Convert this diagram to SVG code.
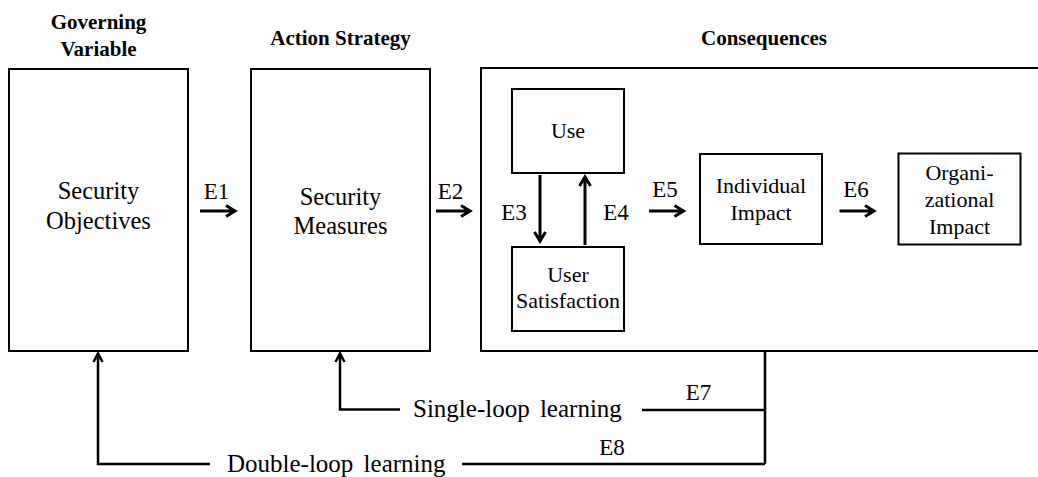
<svg xmlns="http://www.w3.org/2000/svg" width="1038" height="477" viewBox="0 0 1038 477">
<style>
text{font-family:'Liberation Serif',Tinos,'DejaVu Serif',serif;fill:#000}
.h{font-weight:bold;font-size:21px;text-anchor:middle}
.big{font-size:24.5px;text-anchor:middle}
.in{font-size:22px;text-anchor:middle}
.e{font-size:23px;text-anchor:middle}
.lbl{font-size:25px;word-spacing:4px}
.box{fill:#fff;stroke:#000;stroke-width:2}
.ar{stroke:#000;stroke-width:3;fill:none;stroke-linejoin:miter}
.lp{stroke:#000;stroke-width:2.5;fill:none}
</style>
<rect width="1038" height="477" fill="#fff"/>
<g id="headers" font-family="Liberation Serif, serif">
<text class="h" x="98.5" y="29">Governing</text>
<text class="h" x="98.5" y="56">Variable</text>
<text class="h" x="340.5" y="45">Action Strategy</text>
<text class="h" x="764" y="45">Consequences</text>
</g>
<g id="security-objectives">
<rect class="box" x="9" y="69" width="179" height="282"/>
<text class="big" x="98.5" y="199">Security</text>
<text class="big" x="98.5" y="229">Objectives</text>
</g>
<g id="security-measures">
<rect class="box" x="251" y="69" width="179" height="282"/>
<text class="big" x="340.5" y="205">Security</text>
<text class="big" x="340.5" y="234">Measures</text>
</g>
<g id="consequences">
<rect class="box" x="481" y="68" width="580" height="283"/>
</g>
<g id="use">
<rect class="box" x="512" y="89" width="112" height="84"/>
<text class="in" x="568" y="138">Use</text>
</g>
<g id="user-satisfaction">
<rect class="box" x="512" y="247" width="112" height="84"/>
<text class="in" x="568" y="282">User</text>
<text class="in" x="568" y="308">Satisfaction</text>
</g>
<g id="individual-impact">
<rect class="box" x="700" y="154" width="122" height="90"/>
<text class="in" x="761" y="192.5">Individual</text>
<text class="in" x="761" y="219.5">Impact</text>
</g>
<g id="organizational-impact">
<rect class="box" x="898.5" y="153.5" width="122" height="91"/>
<text class="in" x="959.5" y="180">Organi-</text>
<text class="in" x="959.5" y="207">zational</text>
<text class="in" x="959.5" y="234">Impact</text>
</g>
<g id="connectors">
<path class="ar" d="M200,211H234M226,205.5L235,211L226,216.5"/>
<path class="ar" d="M436,211H469M461,205.5L470,211L461,216.5"/>
<path class="ar" d="M540,175V240M534.5,232L540,241L545.5,232"/>
<path class="ar" d="M585,245V178M579.5,186L585,177L590.5,186"/>
<path class="ar" d="M649,211H682.5M674.5,205.5L683.5,211L674.5,216.5"/>
<path class="ar" d="M839.5,211H873M865,205.5L874,211L865,216.5"/>
<path class="lp" d="M765,351V464"/>
<path class="lp" d="M642,410H765"/>
<path class="lp" d="M462,464H765"/>
<path class="lp" d="M400,409.5H340V354M335.5,362L340,353.5L344.5,362"/>
<path class="lp" d="M210,464H98V354M93.5,362L98,353.5L102.5,362"/>
<text class="e" x="216.5" y="199">E1</text>
<text class="e" x="450.5" y="199">E2</text>
<text class="e" x="514" y="220">E3</text>
<text class="e" x="616" y="220">E4</text>
<text class="e" x="665" y="197">E5</text>
<text class="e" x="856" y="197">E6</text>
<text class="e" x="698.5" y="400">E7</text>
<text class="e" x="612" y="455">E8</text>
<text class="lbl" x="413" y="417">Single-loop learning</text>
<text class="lbl" x="227" y="472">Double-loop learning</text>
</g>
</svg>
